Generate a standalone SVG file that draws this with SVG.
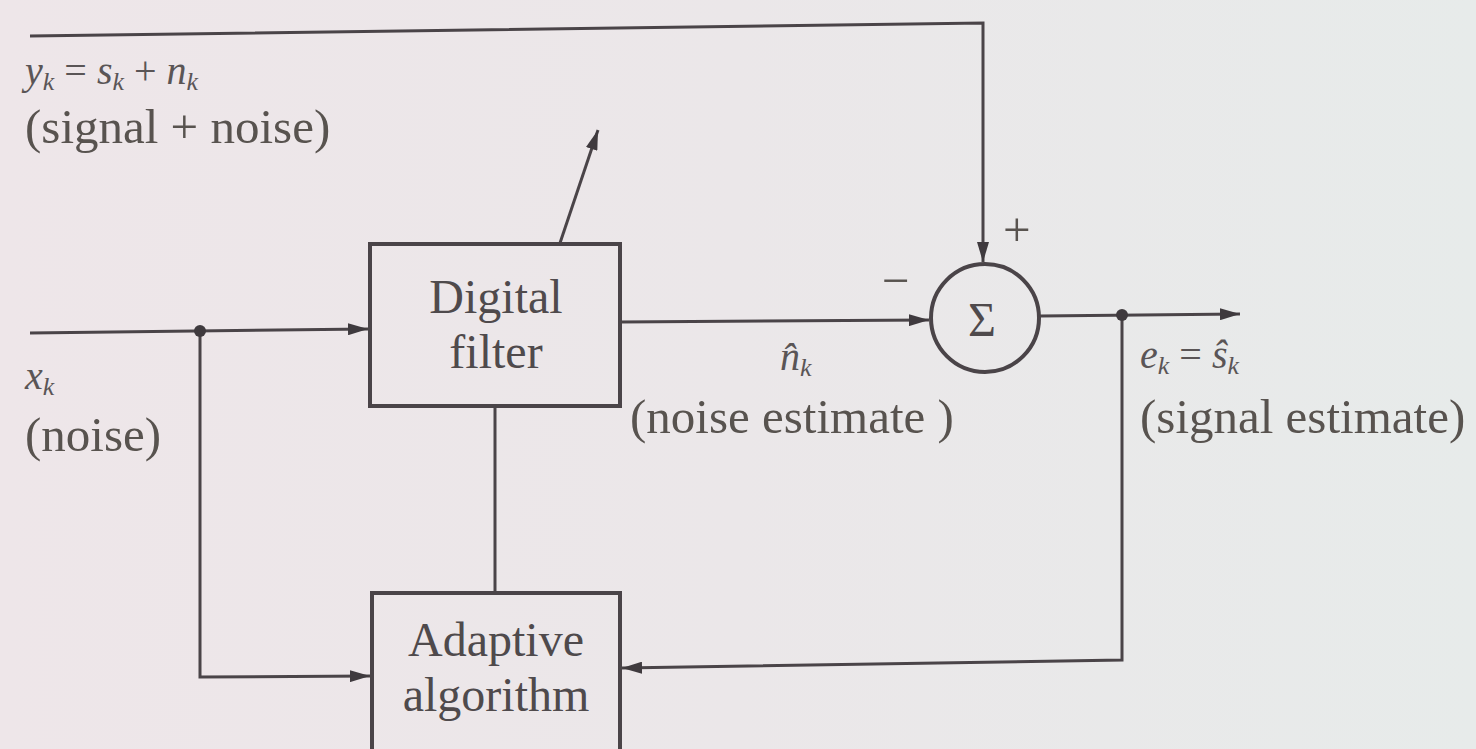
<svg xmlns="http://www.w3.org/2000/svg" width="1476" height="749" viewBox="0 0 1476 749">
  <defs>
    <linearGradient id="paper" x1="0" y1="0" x2="1" y2="0">
      <stop offset="0" stop-color="#eee6e9"/>
      <stop offset="0.5" stop-color="#ebe7e9"/>
      <stop offset="1" stop-color="#e7ebea"/>
    </linearGradient>
    <marker id="arrow" viewBox="0 0 20 12" refX="20" refY="6" markerWidth="20" markerHeight="12" markerUnits="userSpaceOnUse" orient="auto">
      <path d="M0,0 L20,6 L0,12 Z" fill="#3f3a3e"/>
    </marker>
    <style>
      .wire { fill: none; stroke: #4a4448; stroke-width: 3; }
      .box { fill: none; stroke: #4a4448; stroke-width: 4; }
      .dot { fill: #3f3a3e; }
      .lbl { font-family: "Liberation Serif", "Times New Roman", serif; font-size: 49px; fill: #58534f; }
      .blk { font-family: "Liberation Serif", "Times New Roman", serif; font-size: 48px; fill: #4f4a4c; text-anchor: middle; }
      .math { font-family: "Liberation Serif", "Times New Roman", serif; font-style: italic; font-size: 40px; fill: #5a5556; }
      .sub { font-size: 26px; }
    </style>
  </defs>

  <rect width="1476" height="749" fill="url(#paper)"/>

  <!-- connectors -->
  <g id="connectors">
    <!-- primary input y_k routed over the top to the summer -->
    <polyline class="wire" points="30,36 983,23 983,262" marker-end="url(#arrow)"/>
    <!-- reference input x_k into the filter -->
    <line class="wire" x1="30" y1="333" x2="368" y2="329" marker-end="url(#arrow)"/>
    <!-- branch of x_k to the adaptive algorithm -->
    <polyline class="wire" points="200,331 200,677 370,676" marker-end="url(#arrow)"/>
    <!-- filter output n̂_k into the summer -->
    <line class="wire" x1="620" y1="322" x2="929" y2="320" marker-end="url(#arrow)"/>
    <!-- summer output e_k -->
    <line class="wire" x1="1040" y1="316" x2="1240" y2="314" marker-end="url(#arrow)"/>
    <!-- error feedback to the adaptive algorithm -->
    <polyline class="wire" points="1122,315 1122,660 622,668" marker-end="url(#arrow)"/>
    <!-- coefficient update link -->
    <line class="wire" x1="495" y1="407" x2="495" y2="593"/>
    <!-- adjustable-filter arrow -->
    <line class="wire" x1="560" y1="243" x2="598" y2="130" marker-end="url(#arrow)"/>
    <circle class="dot" cx="200" cy="331" r="6"/>
    <circle class="dot" cx="1122" cy="315" r="6"/>
  </g>

  <!-- digital filter -->
  <g id="digital-filter">
    <rect class="box" x="370" y="244" width="250" height="162"/>
    <text class="blk" x="496" y="313">Digital</text>
    <text class="blk" x="496" y="368">filter</text>
  </g>

  <!-- adaptive algorithm -->
  <g id="adaptive-algorithm">
    <rect class="box" x="372" y="593" width="248" height="160"/>
    <text class="blk" x="496" y="656">Adaptive</text>
    <text class="blk" x="496" y="711">algorithm</text>
  </g>

  <!-- summing junction -->
  <g id="summer">
    <circle cx="985" cy="318" r="54" fill="none" stroke="#4a4448" stroke-width="4"/>
    <text class="blk" x="982" y="336" font-size="50">Σ</text>
    <text class="lbl" x="1003" y="246" font-size="38">+</text>
    <text class="lbl" x="882" y="297" font-size="40">−</text>
  </g>

  <!-- signal labels -->
  <g id="label-primary">
    <text class="math" x="25" y="84">y<tspan class="sub" dy="6">k</tspan><tspan dy="-6" font-style="normal"> = </tspan>s<tspan class="sub" dy="6">k</tspan><tspan dy="-6" font-style="normal"> + </tspan>n<tspan class="sub" dy="6">k</tspan></text>
    <text class="lbl" x="25" y="143">(signal + noise)</text>
  </g>
  <g id="label-reference">
    <text class="math" x="25" y="389">x<tspan class="sub" dy="6">k</tspan></text>
    <text class="lbl" x="25" y="451">(noise)</text>
  </g>
  <g id="label-noise-estimate">
    <text class="math" x="780" y="370">n̂<tspan class="sub" dy="6">k</tspan></text>
    <text class="lbl" x="630" y="433">(noise estimate )</text>
  </g>
  <g id="label-signal-estimate">
    <text class="math" x="1140" y="368">e<tspan class="sub" dy="6">k</tspan><tspan dy="-6" font-style="normal"> = </tspan>ŝ<tspan class="sub" dy="6">k</tspan></text>
    <text class="lbl" x="1140" y="433">(signal estimate)</text>
  </g>
</svg>
